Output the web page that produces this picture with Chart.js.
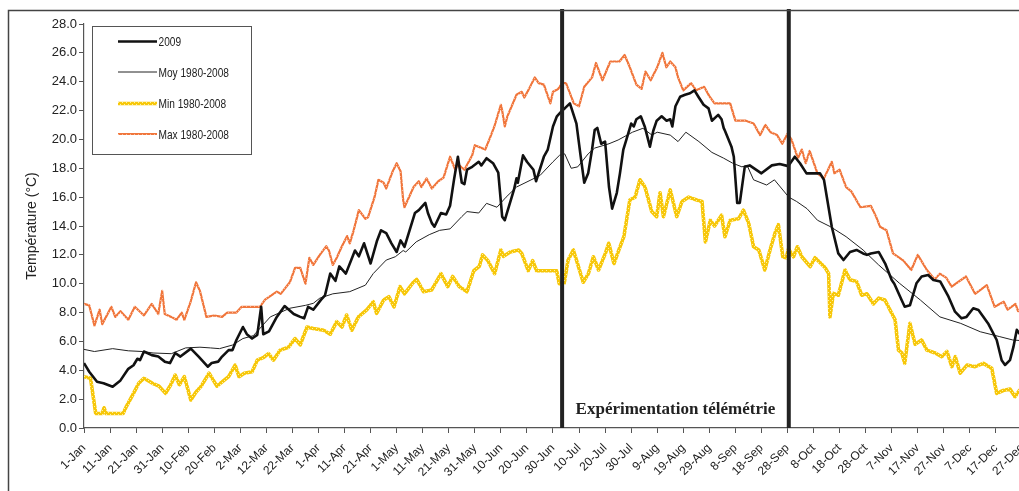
<!DOCTYPE html>
<html>
<head>
<meta charset="utf-8">
<script src="https://cdn.jsdelivr.net/npm/chart.js@4.4.1/dist/chart.umd.min.js"></script>
<style>
  html, body { margin: 0; padding: 0; background: #fff; overflow: hidden; }
  canvas { display: block; }
</style>
</head>
<body>
<canvas id="chart" width="1045" height="520" style="width:1045px;height:520px"></canvas>
<script>
// day of year (0 = 1-Jan) -> °C
const TICK_LABELS = ["1-Jan","11-Jan","21-Jan","31-Jan","10-Feb","20-Feb","2-Mar","12-Mar","22-Mar","1-Apr",
  "11-Apr","21-Apr","1-May","11-May","21-May","31-May","10-Jun","20-Jun","30-Jun","10-Jul","20-Jul","30-Jul",
  "9-Aug","19-Aug","29-Aug","8-Sep","18-Sep","28-Sep","8-Oct","18-Oct","28-Oct","7-Nov","17-Nov","27-Nov",
  "7-Dec","17-Dec","27-Dec"]

const Y_TICKS = [0, 2, 4, 6, 8, 10, 12, 14, 16, 18, 20, 22, 24, 26, 28]

const EXPERIMENT_DAYS = [183.5, 270.5]   // start / end of the telemetry trial
const EXPERIMENT_LABEL = "Expérimentation télémétrie"

const t2009 = [[0,4.5],[2,3.9],[5,3.2],[7.5,3.1],[11,2.86],[14,3.3],[17,4.1],[19,4.35],[20.5,4.8],[21.5,4.7],
  [23,5.3],[26,5.05],[28.5,4.95],[31,4.6],[33,4.5],[35,5.2],[37,4.95],[41,5.5],[44,4.95],[47.5,4.25],[49,4.5],
  [51.5,4.6],[53,4.95],[55.5,5.4],[57,5.4],[58.5,6.1],[61,7.0],[62.5,6.5],[64.5,6.2],[66.5,6.45],[68,8.4],
  [68.8,6.5],[71,6.7],[74,7.7],[77,8.45],[80.5,7.9],[83,7.7],[84.5,7.6],[86,8.4],[88,8.2],[91,8.9],[92.5,9.2],
  [94.5,10.7],[96.5,10.2],[98,11.2],[100.5,10.7],[104,12.3],[105.5,11.9],[107.5,12.8],[110,11.4],[112.5,13.0],
  [114,13.7],[116,13.5],[118,12.8],[120,12.2],[121.5,13.0],[123,12.56],[127,14.9],[128.5,15.1],[131,15.6],
  [132,14.9],[133.5,14.2],[134.5,13.95],[137,14.9],[139,14.8],[140.5,15.4],[142,17.2],[143.5,18.8],[145,17.0],
  [146,16.9],[147,17.9],[149,18.1],[151.5,18.45],[152.5,18.2],[154.5,18.7],[157,18.35],[159,17.7],[160.5,14.65],
  [161.5,14.4],[165,16.5],[166,17.3],[166.5,17.0],[168.5,18.9],[170,18.45],[172.5,17.9],[173.5,17.1],[176.5,18.8],
  [178,19.3],[180,20.9],[181.5,21.6],[183.5,22.0],[184.5,22.15],[186.5,22.5],[189,21.1],[190.5,19.0],[192,17.0],
  [193.5,17.65],[195,19.3],[196,20.65],[197,20.8],[198.5,19.7],[200,19.85],[201.5,16.7],[202.7,15.2],[204.5,16.3],
  [205.7,17.65],[207,19.3],[208.2,20.0],[210,21.1],[211,20.9],[212,21.4],[213.7,21.6],[215.2,20.9],[217.2,19.5],
  [218.5,20.6],[219.8,21.3],[221.7,21.6],[223.6,21.3],[225,21.4],[225.8,20.9],[227,22.3],[228.8,22.96],[230.7,23.1],
  [232.6,23.2],[234.3,23.4],[235.8,22.96],[237.8,22.4],[239.7,22.15],[241,21.3],[243.4,21.7],[244.7,21.4],
  [245.5,20.8],[246,20.6],[248.5,19.5],[249.4,18.8],[250.7,15.6],[251.7,15.6],[253.6,18.1],[255.5,18.2],
  [260,17.65],[264,18.2],[267,18.3],[270.3,18.15],[272.8,18.8],[274.8,18.35],[277.3,17.65],[282.5,17.65],
  [284,17.2],[287,13.95],[289.5,12.1],[291.5,11.64],[294,12.2],[296.5,12.34],[299,12.1],[300.5,12.0],[302,12.1],
  [305,12.2],[307.5,11.4],[310,10.26],[311,10.0],[313.8,8.87],[315,8.4],[317,8.5],[319.5,10.03],[321.5,10.5],
  [324,10.6],[326,10.26],[328.6,10.16],[331.8,9.1],[334.3,8.06],[336.8,7.6],[338.7,7.7],[341.3,8.3],[343.3,8.18],
  [347,7.25],[350.3,6.1],[352.2,4.7],[353.5,4.37],[355.4,4.7],[356.7,5.6],[358,6.8],[359,6.55],[361,6.3],[364,6.2]]

const tMoy = [[0,5.45],[4,5.3],[11,5.5],[17,5.35],[22.5,5.3],[26.5,5.2],[33.5,5.15],[39,5.55],[44.5,5.6],
  [48.5,5.55],[52,5.5],[57,5.75],[61,6.2],[65,6.4],[71.5,7.7],[79,8.3],[85,8.5],[88,8.64],[90.5,9.0],[95.5,9.3],
  [102,9.45],[108,9.9],[111,10.7],[116,11.64],[119.5,11.87],[122.5,12.3],[123.5,12.2],[127.5,12.9],[132.5,13.4],
  [136.5,13.7],[140.5,13.8],[145,14.65],[147,15.0],[151.5,14.9],[154.5,15.57],[158.5,15.3],[162,16.0],[166,16.7],
  [175,17.5],[180,18.45],[182.5,18.9],[184.5,19.0],[187,18.0],[189.5,18.1],[193.5,19.0],[196,19.4],[201.5,19.7],
  [205,19.96],[210.5,20.5],[214.5,20.77],[218,20.3],[220,20.5],[225,20.3],[228,19.85],[231,20.5],[236,19.85],
  [241,19.1],[245.5,18.7],[249,18.35],[252.5,18.1],[254.5,18.2],[257,17.2],[262,16.84],[265,17.2],[270.5,16.0],
  [273.5,15.7],[277.5,15.2],[281.5,14.4],[286.5,13.95],[292.5,13.26],[299,12.34],[305,11.3],[313,10.03],
  [321,8.87],[328.5,7.7],[336.5,7.25],[344,6.67],[351.5,6.33],[356.5,6.1],[364,6.0]]

const tMin = [[0,3.56],[2.5,3.45],[4.5,1.0],[7,1.0],[7.7,1.4],[8.5,1.0],[15,1.0],[16.3,1.5],[19,2.4],[21,3.1],
  [23,3.45],[26.3,3.1],[28.8,2.9],[31.3,2.4],[33.3,3.0],[35,3.67],[36.6,3.0],[38.5,3.56],[41,1.94],[43,2.5],
  [45,2.9],[48,3.8],[51,2.9],[53.7,3.3],[55.5,3.56],[58,4.36],[59.5,3.56],[61.5,3.8],[64.5,3.9],[66.5,4.7],
  [69,4.9],[70.8,5.15],[72.7,4.7],[75.3,5.4],[78.5,5.6],[81,6.2],[83,5.77],[85.6,7.0],[88,6.9],[92,6.78],
  [94.5,6.5],[97,7.37],[99,7.0],[100.8,7.83],[102.8,6.78],[105.3,7.7],[108.5,8.18],[111,8.75],[112.3,7.95],
  [115,8.87],[117,9.1],[119,8.4],[121.3,9.8],[123,9.3],[126.4,10.1],[127.7,10.3],[130.3,9.45],[133.4,9.56],
  [137,10.7],[139.6,9.8],[141.5,10.5],[144,9.8],[147,9.45],[149.6,10.9],[151.7,11.2],[153,12.0],[155,11.6],
  [157.6,10.7],[160,12.34],[161,11.9],[163.6,12.2],[166.8,12.34],[168,12.1],[170.5,10.9],[172.2,11.6],
  [173.7,10.9],[181.4,10.9],[182.4,10.0],[184.3,10.03],[185.8,11.64],[187.8,12.34],[189,11.64],[191.6,10.1],
  [193.6,10.7],[195.5,11.87],[197.5,10.95],[200.1,12.1],[201.4,12.8],[203.4,11.4],[205.3,12.34],[207.2,13.26],
  [209.5,15.8],[211.5,16.0],[213.4,17.2],[215.3,16.7],[217.9,15.0],[219.8,14.65],[221.1,16.3],[222.4,14.65],
  [225,16.5],[227.5,14.65],[229.5,15.7],[232,16.0],[235.2,15.8],[237.2,15.7],[238.5,12.9],[240.4,14.4],
  [242,14.0],[244.7,14.75],[246,13.26],[248,14.4],[251.2,14.5],[253.1,15.1],[255.1,14.2],[257,12.56],
  [259,12.34],[261.3,10.95],[263.3,12.34],[265.2,13.5],[266.5,14.1],[268.2,11.87],[269.5,11.8],[270.4,12.4],
  [272.3,11.87],[273.8,12.56],[275.5,11.87],[278.7,11.18],[280.6,11.8],[284.5,11.1],[285.8,10.7],[286.3,7.7],
  [287.6,9.33],[289.5,9.2],[292.1,10.95],[294,10.27],[296.5,10.16],[298.5,9.2],[300.5,9.3],[303,8.6],[305,9.0],
  [307.4,8.87],[310,7.95],[311.3,7.5],[312.6,5.4],[313.9,5.2],[315,4.48],[317,7.25],[319,5.8],[321.5,6.1],
  [323.5,5.4],[326.7,5.2],[329.2,4.94],[331.2,5.3],[333.1,4.25],[334.4,4.94],[336.3,3.8],[338.9,4.36],
  [342,4.25],[345.2,4.48],[348.4,4.13],[350.3,2.4],[352.8,2.6],[355.4,2.7],[357.3,2.17],[359,2.6],[361,2.4],[364,2.5]]

const tMax = [[0,8.6],[2,8.5],[4,7.1],[6,8.2],[7,7.2],[10.5,8.4],[12,7.7],[14,8.1],[17,7.5],[19.5,8.4],[23,7.8],
  [26,8.6],[28.5,7.9],[30,9.5],[31,7.9],[33.5,7.7],[35.5,7.5],[37.5,8.0],[38.5,7.5],[41,8.8],[43,10.1],[44.5,9.5],
  [47,7.7],[50,7.8],[53,7.7],[55,8.0],[58.5,8.0],[60.5,8.4],[64,8.4],[67.5,8.4],[69.5,8.9],[74,9.45],[75.5,9.3],
  [79,10.1],[81,11.1],[83,11.1],[85,10.0],[86.5,11.8],[88,11.3],[90.5,12.0],[93,12.6],[94,12.3],[95.5,11.3],
  [97,11.8],[99,12.6],[101,13.3],[102,12.8],[103.5,13.7],[105.5,15.1],[108,14.5],[109,14.6],[111.5,16.0],
  [113,17.2],[115,17.0],[116,16.6],[118.5,17.8],[120,18.35],[121.5,17.8],[122.5,15.8],[123,15.3],[126.5,16.7],
  [128.5,17.1],[129.5,16.7],[131.5,17.3],[133.5,16.6],[136,17.1],[138,17.35],[140.5,18.8],[142.5,17.9],
  [143.5,18.3],[146,17.9],[149,18.9],[150,19.6],[154,19.3],[156,20.2],[157.5,20.9],[160,22.4],[160.5,22.0],
  [161.5,20.9],[162.5,21.6],[166,23.1],[168,23.3],[169,22.9],[170.5,23.4],[173,24.3],[174.5,23.9],[176.5,23.8],
  [179,22.5],[180,23.3],[182,23.5],[183.5,23.9],[185,23.9],[188,22.5],[190,22.3],[192,23.65],[195,24.3],
  [196.5,25.3],[199,24.1],[202,25.4],[205.5,25.4],[207.5,25.85],[209.5,25.0],[212,23.8],[214,23.5],[215.5,24.7],
  [217.5,24.1],[220,25.0],[222,26.0],[223.5,25.0],[225,25.4],[227,25.0],[228,24.3],[230,23.4],[233,23.9],
  [235,23.4],[238,23.65],[240,23.0],[242,22.5],[248,22.5],[250,21.3],[254,21.3],[257,21.1],[259.5,20.3],
  [261.5,21.0],[263.5,20.5],[266,20.3],[268,19.7],[270,20.4],[271.5,20.0],[274,18.7],[275.5,19.3],[277,18.35],
  [278.5,19.2],[281.5,17.65],[284,17.3],[287,18.45],[288,17.65],[290,17.9],[292.5,16.7],[294.5,16.4],[298,15.3],
  [302,15.4],[304,14.65],[305.5,13.95],[308,13.7],[310.5,12.1],[314.5,11.6],[317.5,10.95],[320,12.0],
  [323.5,10.95],[326.5,10.3],[328.5,10.7],[331,10.4],[333,9.8],[338.5,10.5],[342,9.3],[346.5,9.9],[349.5,8.4],
  [353,8.75],[354.5,8.2],[357.5,8.6],[358.5,8.1],[361,8.3],[364,8.2]]

// Excel-like speckled stroke for the 1980-2008 extremes
function speckle(base, dot) {
  const c = document.createElement("canvas")
  c.width = c.height = 4
  const g = c.getContext("2d")
  g.fillStyle = base
  g.fillRect(0, 0, 4, 4)
  g.fillStyle = dot
  g.fillRect(0, 0, 1, 1)
  g.fillRect(2, 2, 1, 1)
  return g.createPattern(c, "repeat")
}

const toPoints = arr => arr.map(([x, y]) => ({ x, y }))

const series = [
  { label: "2009",           data: t2009, color: "#111111",                       width: 2.6 },
  { label: "Moy 1980-2008",  data: tMoy,  color: "#222222",                       width: 1 },
  { label: "Min 1980-2008",  data: tMin,  color: speckle("#F7C70A", "#FFF2A0"),   width: 3.6 },
  { label: "Max 1980-2008",  data: tMax,  color: speckle("#F0763C", "#FBB896"),   width: 2.2 },
]

// outer frame, vertical trial markers and its caption
const decorations = {
  id: "decorations",
  afterDatasetsDraw(chart) {
    const { ctx, chartArea, scales: { x } } = chart
    ctx.save()
    ctx.strokeStyle = "#222"
    ctx.lineWidth = 4
    EXPERIMENT_DAYS.forEach(d => {
      const px = x.getPixelForValue(d)
      ctx.beginPath()
      ctx.moveTo(px, 9)
      ctx.lineTo(px, chartArea.bottom)
      ctx.stroke()
    })
    const mid = (x.getPixelForValue(EXPERIMENT_DAYS[0]) + x.getPixelForValue(EXPERIMENT_DAYS[1])) / 2
    ctx.fillStyle = "#222"
    ctx.font = "bold 17px 'Liberation Serif', 'Times New Roman', serif"
    ctx.textAlign = "center"
    ctx.textBaseline = "alphabetic"
    ctx.fillText(EXPERIMENT_LABEL, mid, chartArea.bottom - 14)

    ctx.strokeStyle = "#444"
    ctx.lineWidth = 1.5
    ctx.strokeRect(8.5, 10.5, chart.width + 20, chart.height + 20)
    ctx.restore()
  },
  afterDraw(chart) {
    // boxed legend in the top-left corner of the plot
    const { ctx } = chart
    ctx.save()
    ctx.fillStyle = "#fff"
    ctx.fillRect(93, 27, 158, 127)
    ctx.strokeStyle = "#555"
    ctx.lineWidth = 1
    ctx.strokeRect(92.5, 26.5, 159, 128)
    const rows = [41.5, 72, 103.5, 134]
    chart.data.datasets.forEach((ds, i) => {
      const y = rows[i]
      ctx.strokeStyle = ds.borderColor
      ctx.lineWidth = ds.borderWidth
      ctx.beginPath()
      ctx.moveTo(118, y)
      ctx.lineTo(157, y)
      ctx.stroke()
      ctx.save()
      ctx.translate(158.5, y)
      ctx.scale(0.78, 1)
      ctx.fillStyle = "#222"
      ctx.font = "13px 'Liberation Sans', Arial, sans-serif"
      ctx.textBaseline = "middle"
      ctx.fillText(ds.label, 0, 1)
      ctx.restore()
    })
    ctx.restore()
  }
}

Chart.defaults.font.family = "'Liberation Sans', Arial, sans-serif"
Chart.defaults.color = "#222"

new Chart(document.getElementById("chart"), {
  type: "line",
  data: {
    datasets: series.map(s => ({
      label: s.label,
      data: toPoints(s.data),
      borderColor: s.color,
      borderWidth: s.width,
      pointRadius: 0,
      tension: 0,
      borderJoinStyle: "round",
      fill: false,
    }))
  },
  options: {
    responsive: false,
    devicePixelRatio: 1,
    animation: false,
    layout: { padding: { left: 22, top: 24, right: 10, bottom: 32 } },
    plugins: { legend: { display: false }, tooltip: { enabled: false } },
    scales: {
      x: {
        type: "linear",
        min: 0,
        max: 365,
        afterBuildTicks: axis => { axis.ticks = TICK_LABELS.map((_, i) => ({ value: i * 10 })) },
        afterFit: axis => { axis.height = 60 },
        grid:   { drawOnChartArea: false, drawTicks: true, tickLength: 5, color: "#555" },
        border: { color: "#555", width: 1.2 },
        ticks: {
          autoSkip: false,
          minRotation: 45,
          maxRotation: 45,
          padding: 8,
          font: { size: 12 },
          callback: v => TICK_LABELS[Math.round(v / 10)] ?? ""
        }
      },
      y: {
        min: 0,
        max: 28,
        afterBuildTicks: axis => { axis.ticks = Y_TICKS.map(v => ({ value: v })) },
        afterFit: axis => { axis.width = 62 },
        grid:   { drawOnChartArea: false, drawTicks: true, tickLength: 5, color: "#555" },
        border: { color: "#555", width: 1.2 },
        ticks:  { padding: 2, font: { size: 13 }, callback: v => v.toFixed(1) },
        title:  { display: true, text: "Température (°C)", font: { size: 14 }, padding: { top: 2, bottom: 0 } }
      }
    }
  },
  plugins: [decorations]
})
</script>
</body>
</html>
